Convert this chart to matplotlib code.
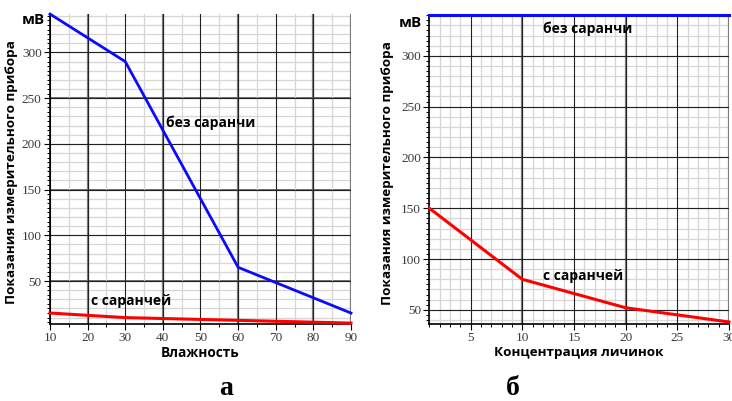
import matplotlib
matplotlib.use('Agg')
import matplotlib.pyplot as plt
from matplotlib.ticker import MultipleLocator

# панель а: влажность
vlazh = [10, 30, 60, 90]
bez_a = [342, 290, 65, 15]
s_a = [15, 10, 7, 4]

# панель б: концентрация личинок
konc = [1, 10, 20, 30]
bez_b = [340, 340, 340, 340]
s_b = [150, 80, 52, 38]

ylabel = 'Показания измерительного прибора'
tick_color = '#3a3a3a'
sans = 'Open Sans'
serif = 'Liberation Serif'


def style_axes(ax, xmajor, xminor, ygrid_minor, yticks):
    ax.xaxis.set_major_locator(MultipleLocator(xmajor))
    ax.xaxis.set_minor_locator(MultipleLocator(xminor))
    ax.set_yticks(yticks)
    ax.yaxis.set_minor_locator(MultipleLocator(5))
    # светлая сетка
    for v in range(0, 400, ygrid_minor):
        ax.axhline(v, color='#d6d6d6', lw=0.9, zorder=0)
    ax.grid(True, which='minor', axis='x', color='#d6d6d6', lw=0.9, zorder=0)
    ax.grid(True, which='major', color='#222222', lw=0.8, zorder=1)
    for s in ['top', 'right']:
        ax.spines[s].set_visible(False)
    ax.spines['left'].set_linewidth(1.2)
    ax.spines['bottom'].set_linewidth(1.2)
    ax.tick_params(which='major', direction='out', length=4, width=0.8,
                   labelsize=9.5, labelcolor=tick_color, pad=2)
    ax.tick_params(which='minor', direction='out', length=2.5, width=0.7)
    for lbl in ax.get_xticklabels() + ax.get_yticklabels():
        lbl.set_fontfamily(serif)


fig = plt.figure(figsize=(7.32, 4.01), dpi=100)

# ---- а ----
ax1 = fig.add_axes([0.0683, 0.192, 0.4112, 0.773])
ax1.plot(vlazh, bez_a, color='#0a0aff', lw=2, zorder=3, clip_on=False)
ax1.plot(vlazh, s_a, color='#ff0000', lw=2.2, zorder=3, clip_on=False)
ax1.set_xlim(10, 90)
ax1.set_ylim(3, 342)
style_axes(ax1, 10, 5, 10, [50, 100, 150, 200, 250, 300])
for v in [20, 40, 60, 80, 90]:
    ax1.axvline(v, color='#808080', lw=1.6, zorder=1)
for v in [50, 150, 250]:
    ax1.axhline(v, color='#707070', lw=1.4, zorder=1)
ax1.set_xlabel('Влажность', fontsize=9.8, fontweight='bold', family=sans, labelpad=1)
ax1.set_ylabel(ylabel, fontsize=9.7, fontweight='bold', family=sans)
ax1.yaxis.set_label_coords(-0.106, 0.49)
ax1.text(52.8, 223, 'без саранчи', fontsize=10, fontweight='bold', family=sans,
         ha='center', va='center', zorder=4)
ax1.text(31.5, 28, 'с саранчей', fontsize=10, fontweight='bold', family=sans,
         ha='center', va='center', zorder=4)
fig.text(0.045, 0.95, 'мВ', fontsize=11, fontweight='bold', family=sans,
         ha='center', va='center')
fig.text(0.309, 0.03, 'а', fontsize=20, fontweight='bold', family=serif,
         ha='center', va='center')

# ---- б ----
ax2 = fig.add_axes([0.5865, 0.192, 0.4094, 0.770])
ax2.plot(konc, bez_b, color='#0a0aff', lw=2.2, zorder=3, clip_on=False)
ax2.plot(konc, s_b, color='#ff0000', lw=2.2, zorder=3, clip_on=False)
ax2.set_xlim(1, 30)
ax2.set_ylim(36, 340)
style_axes(ax2, 5, 1, 10, [50, 100, 150, 200, 250, 300])
for v in [10, 20, 30]:
    ax2.axvline(v, color='#808080', lw=1.6, zorder=1)
ax2.set_xlabel('Концентрация личинок', fontsize=9.7, fontweight='bold', family=sans, labelpad=1)
ax2.set_ylabel(ylabel, fontsize=9.7, fontweight='bold', family=sans)
ax2.yaxis.set_label_coords(-0.117, 0.49)
ax2.text(16.3, 326.6, 'без саранчи', fontsize=10, fontweight='bold', family=sans,
         ha='center', va='center', zorder=4)
ax2.text(15.9, 83.5, 'с саранчей', fontsize=10, fontweight='bold', family=sans,
         ha='center', va='center', zorder=4)
fig.text(0.561, 0.943, 'мВ', fontsize=11, fontweight='bold', family=sans,
         ha='center', va='center')
fig.text(0.700, 0.03, 'б', fontsize=20, fontweight='bold', family=serif,
         ha='center', va='center')

fig.savefig('out.png', dpi=100)
